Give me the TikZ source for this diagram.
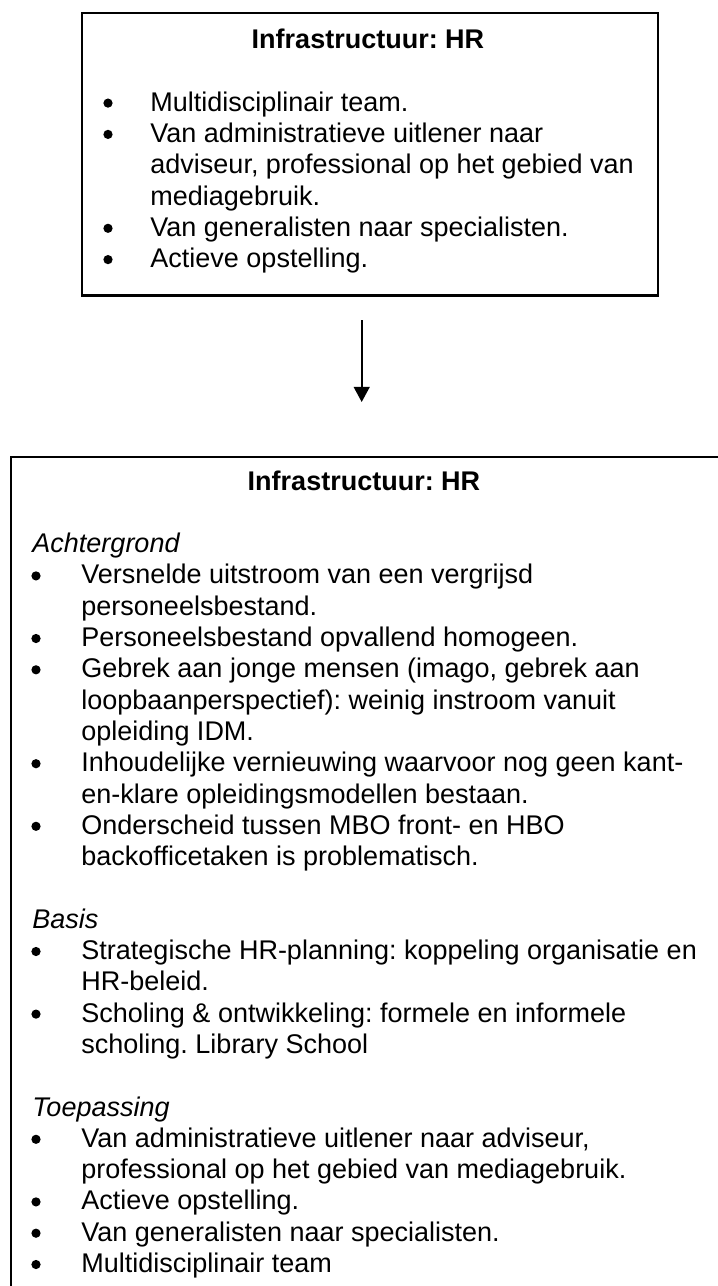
\documentclass[tikz,border=0pt]{standalone}
\usepackage{fontspec}
\setmainfont{Liberation Sans}
\frenchspacing
\usetikzlibrary{arrows.meta}
\begin{document}
\begin{tikzpicture}[x=0.4444pt,y=-0.4444pt,
  panel/.style={draw=black, line width=1pt, anchor=north west, inner sep=0},
  txt/.style={anchor=base west, inner sep=0, font=\fontsize{12pt}{14pt}\selectfont},
  head/.style={anchor=base, inner sep=0, font=\fontsize{12pt}{14pt}\selectfont\bfseries},
  sect/.style={anchor=base west, inner sep=0, font=\fontsize{12pt}{14pt}\selectfont\itshape},
  dot/.style={circle, fill=black, inner sep=0, minimum size=4.1pt},
  flow/.style={line width=0.9pt, -{Triangle[length=6.7pt,width=7pt]}}]
\useasboundingbox (0,0) rectangle (718,1286);
\clip (0,0) rectangle (718,1286);

% upper panel
\node[panel, minimum width={575.7*0.4444pt}, minimum height={282.3*0.4444pt}] (topbox) at (81,12) {};
\node[head] (toptitle) at (368,48.5) {Infrastructuur: HR};
\node[txt] (t1) at (150,111.1) {Multidisciplinair team.};
\node[txt] (t2) at (150,142.4) {Van administratieve uitlener naar};
\node[txt] (t3) at (150,173.7) {adviseur, professional op het gebied van};
\node[txt] (t4) at (150,205.0) {mediagebruik.};
\node[txt] (t5) at (150,236.3) {Van generalisten naar specialisten.};
\node[txt] (t6) at (150,267.6) {Actieve opstelling.};
\node[dot] (td1) at (108,103.1) {};
\node[dot] (td2) at (108,134.4) {};
\node[dot] (td3) at (108,228.3) {};
\node[dot] (td4) at (108,259.6) {};

% connector between the panels
\coordinate (arrtop) at (361.7,320);
\coordinate (arrtip) at (361.7,402);
\draw[flow] (arrtop) -- (arrtip);

% lower panel, running past the right and bottom edges
\node[panel, minimum width={740*0.4444pt}, minimum height={860*0.4444pt}] (botbox) at (10,455.7) {};
\node[head] (bottitle) at (364,490) {Infrastructuur: HR};

\node[sect] (s1) at (32,552.6) {Achtergrond};
\node[txt] (b1) at (81,583.9) {Versnelde uitstroom van een vergrijsd};
\node[txt] (b2) at (81,615.2) {personeelsbestand.};
\node[txt] (b3) at (81,646.5) {Personeelsbestand opvallend homogeen.};
\node[txt] (b4) at (81,677.8) {Gebrek aan jonge mensen (imago, gebrek aan};
\node[txt] (b5) at (81,709.1) {loopbaanperspectief): weinig instroom vanuit};
\node[txt] (b6) at (81,740.4) {opleiding IDM.};
\node[txt] (b7) at (81,771.7) {Inhoudelijke vernieuwing waarvoor nog geen kant-};
\node[txt] (b8) at (81,803.0) {en-klare opleidingsmodellen bestaan.};
\node[txt] (b9) at (81,834.3) {Onderscheid tussen MBO front- en HBO};
\node[txt] (b10) at (81,865.6) {backofficetaken is problematisch.};
\node[dot] (bd1) at (36,575.9) {};
\node[dot] (bd2) at (36,638.5) {};
\node[dot] (bd3) at (36,669.8) {};
\node[dot] (bd4) at (36,763.7) {};
\node[dot] (bd5) at (36,826.3) {};

\node[sect] (s2) at (32,928.2) {Basis};
\node[txt] (b11) at (81,959.5) {Strategische HR-planning: koppeling organisatie en};
\node[txt] (b12) at (81,990.8) {HR-beleid.};
\node[txt] (b13) at (81,1022.1) {Scholing \& ontwikkeling: formele en informele};
\node[txt] (b14) at (81,1053.4) {scholing. Library School};
\node[dot] (bd6) at (36,951.5) {};
\node[dot] (bd7) at (36,1014.1) {};

\node[sect] (s3) at (32,1116.0) {Toepassing};
\node[txt] (b15) at (81,1147.3) {Van administratieve uitlener naar adviseur,};
\node[txt] (b16) at (81,1178.6) {professional op het gebied van mediagebruik.};
\node[txt] (b17) at (81,1209.9) {Actieve opstelling.};
\node[txt] (b18) at (81,1241.2) {Van generalisten naar specialisten.};
\node[txt] (b19) at (81,1272.5) {Multidisciplinair team};
\node[dot] (bd8) at (36,1139.3) {};
\node[dot] (bd9) at (36,1201.9) {};
\node[dot] (bd10) at (36,1233.2) {};
\node[dot] (bd11) at (36,1264.5) {};
\end{tikzpicture}
\end{document}
